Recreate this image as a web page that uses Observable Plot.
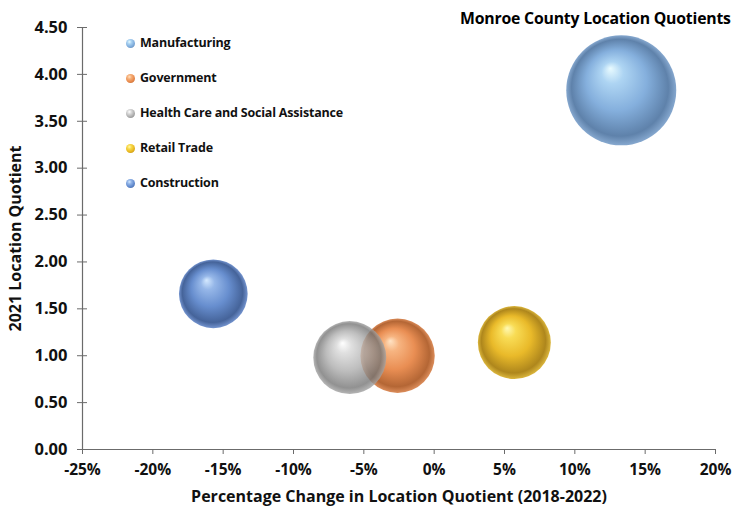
<!DOCTYPE html>
<html><head><meta charset="utf-8">
<script src="https://cdn.jsdelivr.net/npm/d3@7"></script>
<script src="https://cdn.jsdelivr.net/npm/@observablehq/plot@0.6"></script>
<style>
body{margin:0;background:#fff;overflow:hidden;}
#wrap{position:relative;width:733px;height:510px;font-family:"Open Sans",Lato,sans-serif;}
#title{position:absolute;left:460px;top:7px;font-weight:bold;font-size:15.8px;white-space:nowrap;color:#000;letter-spacing:-0.2px;}
.item{position:absolute;left:126px;height:16px;line-height:16px;font-weight:bold;font-size:12.5px;color:#111;white-space:nowrap;letter-spacing:-0.2px;}
.sw{display:inline-block;width:9px;height:9px;border-radius:50%;margin-right:5px;vertical-align:-1px;}
</style></head>
<body><div id="wrap"><div id="title">Monroe County Location Quotients</div></div>
<script>
const industries = ["Manufacturing", "Government", "Health Care and Social Assistance", "Retail Trade", "Construction"];
const pctChange = [13.3, -2.6, -6.0, 5.7, -15.7];
const lq2021 = [3.83, 1.00, 0.98, 1.14, 1.66];
const employment = [3000, 1370, 1320, 1320, 1170];
const xTicks = [-25, -20, -15, -10, -5, 0, 5, 10, 15, 20];
const yTicks = [0, 0.5, 1, 1.5, 2, 2.5, 3, 3.5, 4, 4.5];
const palettes = [
  ["#E8FBFF", "#A9D2F2", "#7EABDB", "#567BA6", "#7FA3CC"],
  ["#FFE2C2", "#F6B07A", "#E8884A", "#B05E2A", "#DA8752"],
  ["#FFFFFF", "#D8D8D8", "#ADADAD", "#767676", "#A3A3A3"],
  ["#FFF9B0", "#F8DA4C", "#E8B61E", "#AA8010", "#D9B232"],
  ["#D2E8FF", "#90B3E7", "#5F88CC", "#3B5B94", "#6C8ECC"]
];
const opacities = [0.95, 0.95, 0.8, 0.95, 0.95];
const axisColor = "#6b6b6b";
const data = industries.map((name, i) => ({name, x: pctChange[i], y: lq2021[i], size: employment[i], i}));

const marks = [
  Plot.ruleY([0], {stroke: axisColor, strokeWidth: 1.2}),
  Plot.ruleX([-25], {stroke: axisColor, strokeWidth: 1.2}),
  Plot.axisX({ticks: xTicks, tickSize: 5, tickPadding: 9, tickFormat: d => d + "%", label: null, stroke: axisColor, fill: "#111", fontSize: 15.5}),
  Plot.axisY({ticks: yTicks, tickSize: 10, dx: 5, tickFormat: () => "", label: null, stroke: axisColor}),
  Plot.axisY({ticks: yTicks, tickSize: 0, tickPadding: 15, tickFormat: d => d.toFixed(2), label: null, fill: "#111", fontSize: 16.5}),
  Plot.text(["Percentage Change in Location Quotient (2018-2022)"], {frameAnchor: "bottom", dy: 52, fill: "#111", fontSize: 16, fontWeight: "bold", letterSpacing: "-0.2px"}),
  Plot.text(["2021 Location Quotient"], {frameAnchor: "left", textAnchor: "middle", rotate: -90, dx: -67, fill: "#111", fontSize: 16, fontWeight: "bold"})
];
data.forEach(d => {
  marks.push(Plot.dot([d], {x: "x", y: "y", r: "size", fill: `url(#sph${d.i})`, fillOpacity: opacities[d.i], stroke: "none"}));
});

const plot = Plot.plot({
  width: 733, height: 510,
  marginLeft: 82, marginRight: 18, marginTop: 27, marginBottom: 61,
  x: {domain: [-25, 20]},
  y: {domain: [0, 4.5]},
  r: {domain: [0, d3.max(employment)], range: [0, 55]},
  style: {fontFamily: "'Open Sans', Lato, sans-serif", fontSize: "15px", fontWeight: "bold", background: "transparent", overflow: "visible"},
  marks
});

const svg = d3.select(plot);
const defs = svg.insert("defs", ":first-child");
palettes.forEach((p, i) => {
  const g = defs.append("radialGradient").attr("id", "sph" + i)
    .attr("cx", 0.5).attr("cy", 0.5).attr("r", 0.5).attr("fx", 0.4).attr("fy", 0.3);
  [[0, p[0]], [0.2, p[1]], [0.55, p[2]], [0.88, p[3]], [1, p[4]]].forEach(([o, c]) =>
    g.append("stop").attr("offset", o).attr("stop-color", c));
});

const wrap = document.getElementById("wrap");
wrap.insertBefore(plot, wrap.firstChild);
plot.style.position = "absolute"; plot.style.left = "0"; plot.style.top = "0";

industries.forEach((name, i) => {
  const p = palettes[i];
  const el = document.createElement("div");
  el.className = "item";
  el.style.top = (35 + i * 35) + "px";
  el.innerHTML = `<span class="sw" style="background:radial-gradient(circle at 38% 32%, ${p[0]} 0%, ${p[1]} 25%, ${p[2]} 60%, ${p[3]} 100%)"></span>${name}`;
  wrap.appendChild(el);
});
</script></body></html>
